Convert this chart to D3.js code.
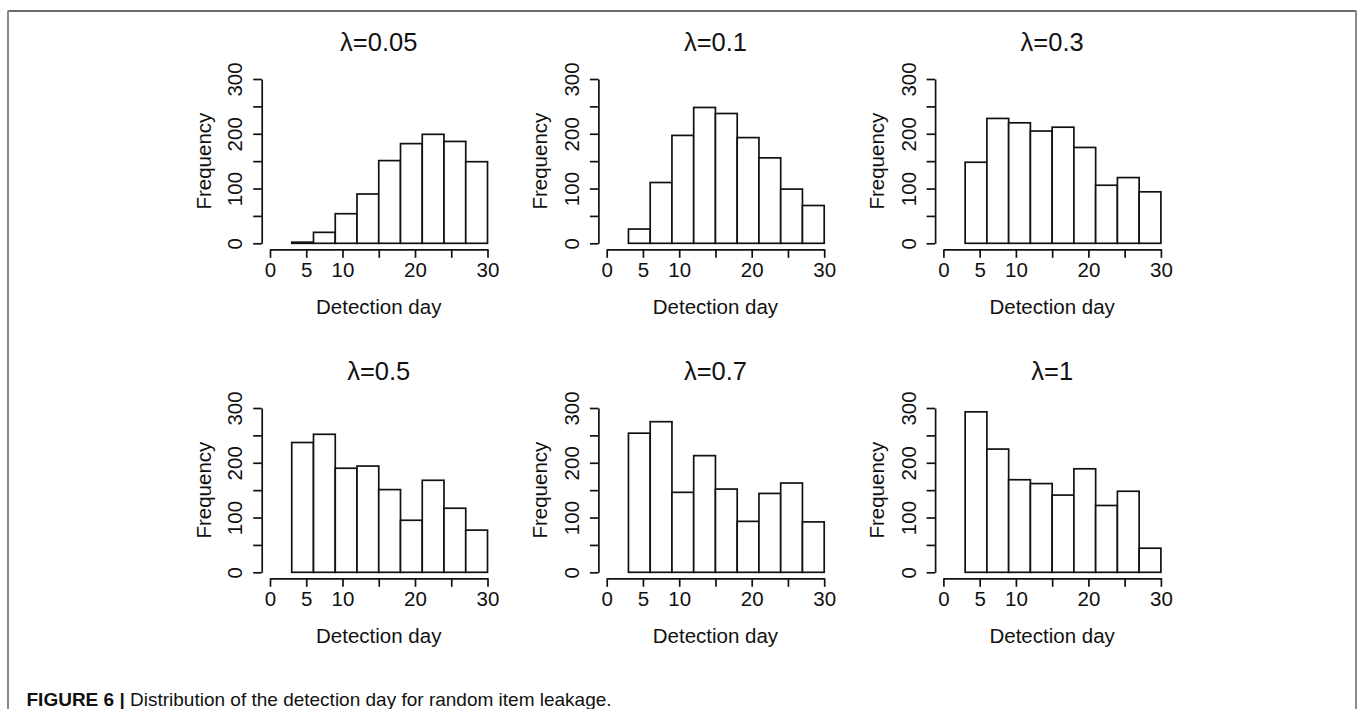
<!DOCTYPE html>
<html>
<head>
<meta charset="utf-8">
<script src="https://cdn.jsdelivr.net/npm/d3@7"></script>
<style>
  html, body { margin: 0; padding: 0; background: #fff; }
  svg { display: block; }
  text { font-family: "Liberation Sans", Arial, Helvetica, sans-serif; fill: #111; }
</style>
</head>
<body>
<svg id="fig" width="1358" height="709"></svg>
<script>
// Histogram bins: detection day in 3-day bins from 0 to 30
const binEdges = [0, 3, 6, 9, 12, 15, 18, 21, 24, 27, 30];

// Panel titles (leakage rate)
const lambdas = ["0.05", "0.1", "0.3", "0.5", "0.7", "1"];

// Frequencies per bin for each leakage rate
const freqL005 = [0, 2, 20, 54, 90, 151, 182, 199, 186, 149];
const freqL01  = [0, 26, 111, 197, 248, 237, 193, 156, 99, 69];
const freqL03  = [0, 148, 228, 220, 205, 212, 175, 106, 120, 94];
const freqL05  = [0, 237, 252, 190, 194, 151, 95, 168, 117, 77];
const freqL07  = [0, 254, 275, 146, 213, 152, 93, 144, 163, 92];
const freqL1   = [0, 293, 225, 169, 162, 141, 189, 122, 148, 44];

const seriesList = [freqL005, freqL01, freqL03, freqL05, freqL07, freqL1];

// Axis ticks
const xTicks = [0, 5, 10, 15, 20, 25, 30];
const xTickLabels = [0, 5, 10, 20, 30];
const yTicks = [0, 50, 100, 150, 200, 250, 300];
const yTickLabels = [0, 100, 200, 300];

const xLabel = "Detection day";
const yLabel = "Frequency";
const captionBold = "FIGURE 6 | ";
const captionText = "Distribution of the detection day for random item leakage.";

const svg = d3.select("#fig");
const ink = "#111";
const lw = 1.7;

// Frame around the figure
svg.append("line").attr("x1", 8).attr("x2", 1356).attr("y1", 11).attr("y2", 11)
  .attr("stroke", "#3a3a3a").attr("stroke-width", 1.5);
svg.append("line").attr("x1", 8).attr("x2", 8).attr("y1", 10.5).attr("y2", 709)
  .attr("stroke", "#8a8a8a").attr("stroke-width", 2);
svg.append("line").attr("x1", 1356).attr("x2", 1356).attr("y1", 10.5).attr("y2", 709)
  .attr("stroke", "#8a8a8a").attr("stroke-width", 2);

// Panel geometry
const colStep = 336.7, rowStep = 329;
const plotW = 217.5;
const yBase = 243.3, yTop = 79;

seriesList.forEach((freq, i) => {
  const c = i % 3, r = Math.floor(i / 3);
  const x0 = 270 + c * colStep;
  const dy = r * rowStep;

  const x = d3.scaleLinear().domain([0, 30]).range([x0, x0 + plotW]);
  const y = d3.scaleLinear().domain([0, 300]).range([yBase + dy, yTop + dy]);

  const g = svg.append("g");

  const bins = freq.map((v, k) => ({ x0: binEdges[k], x1: binEdges[k + 1], v }));

  g.selectAll("rect.bar").data(bins).enter().append("rect")
    .attr("class", "bar")
    .attr("x", d => x(d.x0))
    .attr("width", d => x(d.x1) - x(d.x0))
    .attr("y", d => y(d.v))
    .attr("height", d => y(0) - y(d.v))
    .attr("fill", "#fff")
    .attr("stroke", ink)
    .attr("stroke-width", lw);

  // X axis (drawn a little below the baseline)
  const xAxis = d3.axisBottom(x)
    .tickValues(xTicks)
    .tickSize(8.5)
    .tickSizeOuter(0)
    .tickPadding(5)
    .tickFormat(d => xTickLabels.includes(d) ? d : "");
  const gx = g.append("g")
    .attr("transform", `translate(0,${y(0) + 6})`)
    .call(xAxis);
  gx.select(".domain").attr("stroke", ink).attr("stroke-width", lw);
  gx.selectAll(".tick line").attr("stroke", ink).attr("stroke-width", lw);
  gx.selectAll(".tick text").attr("font-size", 20.5).attr("fill", ink)
    .attr("font-family", "Liberation Sans, Arial, sans-serif");

  // Y axis (drawn a little left of the first bin)
  const yAxis = d3.axisLeft(y)
    .tickValues(yTicks)
    .tickSize(8.5)
    .tickSizeOuter(0)
    .tickFormat(d => yTickLabels.includes(d) ? d : "");
  const gy = g.append("g")
    .attr("transform", `translate(${x(0) - 8.3},0)`)
    .call(yAxis);
  gy.select(".domain").attr("stroke", ink).attr("stroke-width", lw);
  gy.selectAll(".tick line").attr("stroke", ink).attr("stroke-width", lw);
  gy.selectAll(".tick text")
    .attr("font-size", 20.5).attr("fill", ink)
    .attr("font-family", "Liberation Sans, Arial, sans-serif")
    .attr("text-anchor", "middle")
    .attr("x", null).attr("dy", null)
    .attr("transform", "translate(-19.5,0) rotate(-90)");

  // Titles and axis labels
  const cx = x(15);
  g.append("text")
    .attr("x", cx).attr("y", 41.7 + dy + 9)
    .attr("text-anchor", "middle")
    .attr("font-size", 25.5)
    .text("\u03bb=" + lambdas[i]);

  g.append("text")
    .attr("x", cx).attr("y", 306.7 + dy + 7)
    .attr("text-anchor", "middle")
    .attr("font-size", 20.5)
    .text(xLabel);

  g.append("text")
    .attr("transform", `translate(${x(0) - 59.5},${y(150)}) rotate(-90)`)
    .attr("text-anchor", "middle")
    .attr("font-size", 20.5)
    .text(yLabel);
});

// Caption
const cap = svg.append("text").attr("x", 26.5).attr("y", 706).attr("font-size", 19);
cap.append("tspan").attr("font-weight", "bold").text(captionBold);
cap.append("tspan").text(captionText);
</script>
</body>
</html>
